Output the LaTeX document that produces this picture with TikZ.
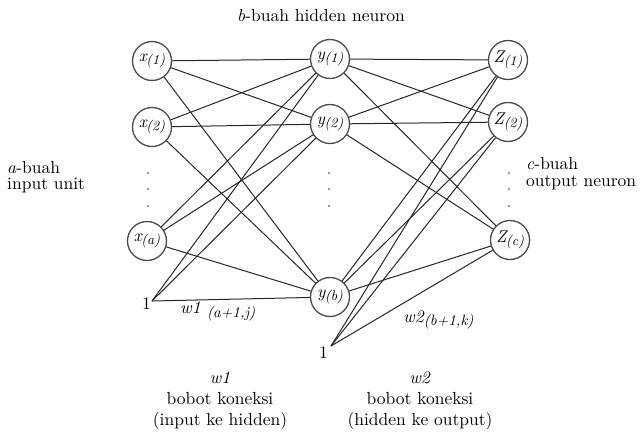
\documentclass[tikz,border=0pt]{standalone}
\usepackage{fontspec}
\setmainfont{lmroman10-regular.otf}[ItalicFont=lmroman10-italic.otf,BoldFont=lmroman10-bold.otf]
\begin{document}
\begin{tikzpicture}[x=1pt,y=-1pt,
  neuron/.style={circle,draw=black!70,line width=1.3pt,minimum size=39pt,inner sep=0pt,fill=white},
  conn/.style={draw=black!85,line width=1pt},
  lbl/.style={font=\fontsize{17.5}{17.5}\selectfont,inner sep=0pt},
  dotm/.style={fill=black!80,draw=none,circle,inner sep=0pt,minimum size=1.9pt}]
\newcommand{\nlab}[2]{{\fontsize{17}{17}\selectfont\itshape #1\kern-0.3pt\raisebox{-0.45ex}{\fontsize{14}{14}\selectfont #2}}}
\useasboundingbox (0,0) rectangle (644,439);
\coordinate (b1) at (152,301);
\coordinate (b2) at (331,346);
\node[neuron] (x1) at (152,61) {\nlab{x}{(1)}};
\node[neuron] (x2) at (152,127) {\nlab{x}{(2)}};
\node[neuron] (xa) at (147,241) {\nlab{x}{(a)}};
\node[neuron] (y1) at (330,59) {\nlab{y}{(1)}};
\node[neuron] (y2) at (330,124) {\nlab{y}{(2)}};
\node[neuron] (yb) at (330,297) {\nlab{y}{(b)}};
\node[neuron] (z1) at (508,60) {\nlab{Z}{(1)}};
\node[neuron] (z2) at (508,122) {\nlab{Z}{(2)}};
\node[neuron] (zc) at (510,240) {\nlab{Z}{(c)}};
\foreach \s in {x1,x2,xa,b1}{
  \foreach \t in {y1,y2,yb}{
    \draw[conn] (\s) -- (\t);
  }
}
\foreach \s in {y1,y2,yb,b2}{
  \foreach \t in {z1,z2,zc}{
    \draw[conn] (\s) -- (\t);
  }
}
% bias labels
\node[lbl,anchor=east] (one1) at (151,304) {1};
\node[lbl,anchor=east] (one2) at (328,353) {1};
% dots
\foreach \xx/\n in {148/l,329/m,509/r}{
  \node[dotm] (d\n1) at (\xx,173) {};
  \node[dotm] (d\n2) at (\xx,189) {};
  \node[dotm] (d\n3) at (\xx,206) {};
}
% edge labels
\node[lbl,anchor=base west] (lw1) at (180,313) {\itshape w1 \raisebox{-0.55ex}{\fontsize{15}{15}\selectfont (a+1,j)}};
\node[lbl,anchor=base west] (lw2) at (403,322) {\itshape w2\raisebox{-0.5ex}{\fontsize{15}{15}\selectfont (b+1,k)}};
% texts
\node[lbl] (tb) at (321,16) {\textit{b}-buah hidden neuron};
\node[lbl,anchor=west,align=left,font=\fontsize{17.5}{16}\selectfont] (ta) at (7,177) {\textit{a}-buah\\input unit};
\node[lbl,anchor=west,align=left,font=\fontsize{17.5}{17}\selectfont] (tc) at (526,174) {\textit{c}-buah\\output neuron};
\node[lbl,align=center,font=\fontsize{17.5}{21}\selectfont] (tw1) at (220,401) {\textit{w1}\\bobot koneksi\\(input ke hidden)};
\node[lbl,align=center,font=\fontsize{17.5}{21}\selectfont] (tw2) at (420,401) {\textit{w2}\\bobot koneksi\\(hidden ke output)};
\end{tikzpicture}
\end{document}
